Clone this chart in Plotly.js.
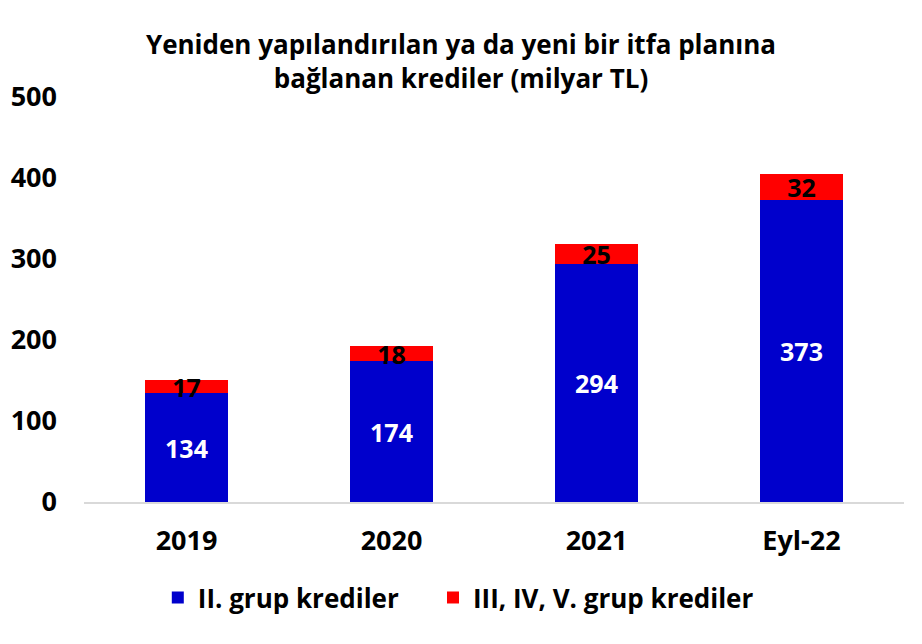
<!DOCTYPE html>
<html>
<head>
<meta charset="utf-8">
<script src="https://cdn.plot.ly/plotly-3.0.1.min.js"></script>
<style>html,body{margin:0;padding:0;background:#fff;}#chart{width:922px;height:644px;}</style>
</head>
<body>
<div id="chart"></div>
<script>
const categories = ["2019", "2020", "2021", "Eyl-22"];
const group2 = [134, 174, 294, 373];
const group345 = [17, 18, 25, 32];
const seriesNames = ["II. grup krediler", "III, IV, V. grup krediler"];
const tickVals = [0, 100, 200, 300, 400, 500];

const FONT = "Open Sans, Noto Sans, sans-serif";

const traces = [
  {
    type: "bar", name: seriesNames[0], x: categories, y: group2,
    marker: {color: "#0000CC"},
    text: group2.map(String), textposition: "inside", insidetextanchor: "middle",
    constraintext: "none", textangle: 0,
    textfont: {family: FONT, size: 25, color: "#ffffff", weight: 700},
    hoverinfo: "skip", legend: "legend"
  },
  {
    type: "bar", name: seriesNames[1], x: categories, y: group345,
    marker: {color: "#FF0000"},
    text: group345.map(String), textposition: "inside", insidetextanchor: "middle",
    constraintext: "none", textangle: 0,
    textfont: {family: FONT, size: 25, color: "#000000", weight: 700},
    hoverinfo: "skip", legend: "legend2"
  }
];

const legendBase = {
  orientation: "h", xanchor: "left", y: -0.178, yanchor: "top",
  font: {family: FONT, size: 26, color: "#000000", weight: 700},
  itemwidth: 30, bgcolor: "rgba(0,0,0,0)"
};

const layout = {
  width: 922, height: 644,
  paper_bgcolor: "#ffffff", plot_bgcolor: "#ffffff",
  barmode: "stack", bargap: 0.595,
  margin: {l: 84, r: 18, t: 97, b: 142},
  font: {family: FONT, color: "#000000", weight: 700},
  title: {
    text: "Yeniden yapılandırılan ya da yeni bir itfa planına<br>bağlanan krediler (milyar TL)",
    font: {family: FONT, size: 26, color: "#000000", weight: 700},
    x: 0.5, xanchor: "center", yref: "container", y: 0.916, yanchor: "middle"
  },
  xaxis: {
    type: "category",
    showgrid: false, zeroline: false,
    showline: true, linecolor: "#d9d9d9", linewidth: 2,
    ticks: "", tickfont: {family: FONT, size: 27, color: "#000000", weight: 700},
    ticklabelstandoff: 14
  },
  yaxis: {
    range: [0, 500], tickvals: tickVals, ticktext: tickVals.map(String),
    showgrid: false, zeroline: false, showline: false,
    ticks: "", tickfont: {family: FONT, size: 27, color: "#000000", weight: 700},
    ticklabelstandoff: 26
  },
  legend: Object.assign({}, legendBase, {x: 0.09}),
  legend2: Object.assign({}, legendBase, {x: 0.4256}),
  showlegend: true
};

Plotly.newPlot("chart", traces, layout, {displayModeBar: false, staticPlot: true});
</script>
</body>
</html>
